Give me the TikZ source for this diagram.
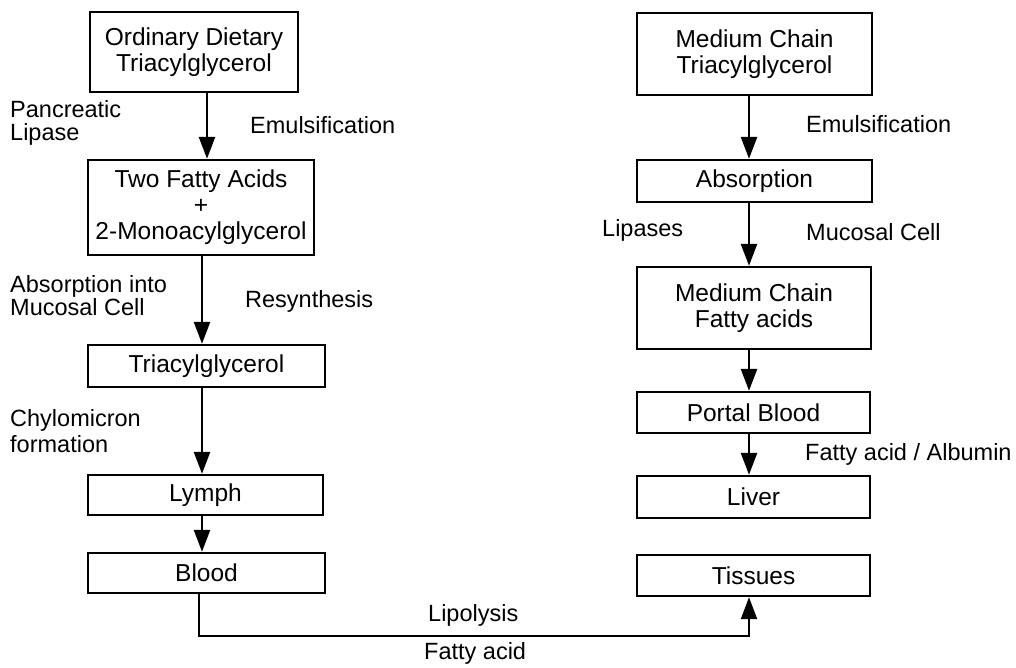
\documentclass[tikz,border=0pt]{standalone}
\usepackage{fontspec}
\setmainfont{Liberation Sans}
\usetikzlibrary{arrows.meta}
\begin{document}
\begin{tikzpicture}[x=1pt,y=-1pt,
  box/.style={draw=black,line width=2.4pt,inner sep=0pt,align=center,
    font=\fontsize{24.5}{26}\selectfont},
  lbl/.style={inner sep=0pt,anchor=west,align=left,
    font=\fontsize{23.5}{23}\selectfont},
  arr/.style={line width=2.6pt,-{Triangle[length=22pt,width=16pt]}},
  conn/.style={line width=2.2pt}]
\useasboundingbox (0,0) rectangle (1016,667);
% left column boxes
\node[box,minimum width=208pt,minimum height=80pt] (b1) at (194,52) {Ordinary Dietary\\Triacylglycerol};
\node[box,minimum width=226pt,minimum height=95pt] (b2) at (201,207.5) {Two Fatty Acids\\+\\2-Monoacylglycerol};
\node[box,minimum width=237pt,minimum height=42pt] (b3) at (206.5,366) {Triacylglycerol};
\node[box,minimum width=235pt,minimum height=40pt] (b4) at (205.5,495) {Lymph};
\node[box,minimum width=237pt,minimum height=40pt] (b5) at (206.5,573) {Blood};
% right column boxes
\node[box,minimum width=235pt,minimum height=82pt] (r1) at (754.5,54) {Medium Chain\\Triacylglycerol};
\node[box,minimum width=235pt,minimum height=42pt] (r2) at (754.5,181) {Absorption};
\node[box,minimum width=234pt,minimum height=82pt] (r3) at (754,308) {Medium Chain\\Fatty acids};
\node[box,minimum width=233pt,minimum height=41pt] (r4) at (753.5,412.5) {Portal Blood};
\node[box,minimum width=233pt,minimum height=42pt] (r5) at (753.5,497) {Liver};
\node[box,minimum width=233pt,minimum height=41pt] (r6) at (753.5,575.5) {Tissues};
% arrow x positions
\coordinate (xa) at (207,0);
\coordinate (xb) at (202,0);
\coordinate (xc) at (199,0);
\coordinate (xr) at (749,0);
\coordinate (yl) at (0,636);
% left arrows
\draw[arr] (b1.south -| xa) -- (b2.north -| xa);
\draw[arr] (b2.south -| xb) -- (b3.north -| xb);
\draw[arr] (b3.south -| xb) -- (b4.north -| xb);
\draw[arr] (b4.south -| xb) -- (b5.north -| xb);
% right arrows
\draw[arr] (r1.south -| xr) -- (r2.north -| xr);
\draw[arr] (r2.south -| xr) -- (r3.north -| xr);
\draw[arr] (r3.south -| xr) -- (r4.north -| xr);
\draw[arr] (r4.south -| xr) -- (r5.north -| xr);
% bottom connector
\draw[arr,line width=2.2pt] (b5.south -| xc) -- (xc |- yl) -- (xr |- yl) -- (r6.south -| xr);
% labels
\node[lbl] (l1) at (10,123) {Pancreatic\\Lipase};
\node[lbl] (l2) at (250,125) {Emulsification};
\node[lbl] (l3) at (10,296) {Absorption into\\Mucosal Cell};
\node[lbl] (l4) at (245,301) {Resynthesis};
\node[lbl,font=\fontsize{23.5}{26}\selectfont] (l5) at (10,431) {Chylomicron\\formation};
\node[lbl] (l6) at (806,124) {Emulsification};
\node[lbl] (l7) at (602,230) {Lipases};
\node[lbl] (l8) at (806,232) {Mucosal Cell};
\node[lbl] (l9) at (805,454) {Fatty acid / Albumin};
\node[lbl] (l10) at (428,615) {Lipolysis};
\node[lbl] (l11) at (424,653) {Fatty acid};
\end{tikzpicture}
\end{document}
